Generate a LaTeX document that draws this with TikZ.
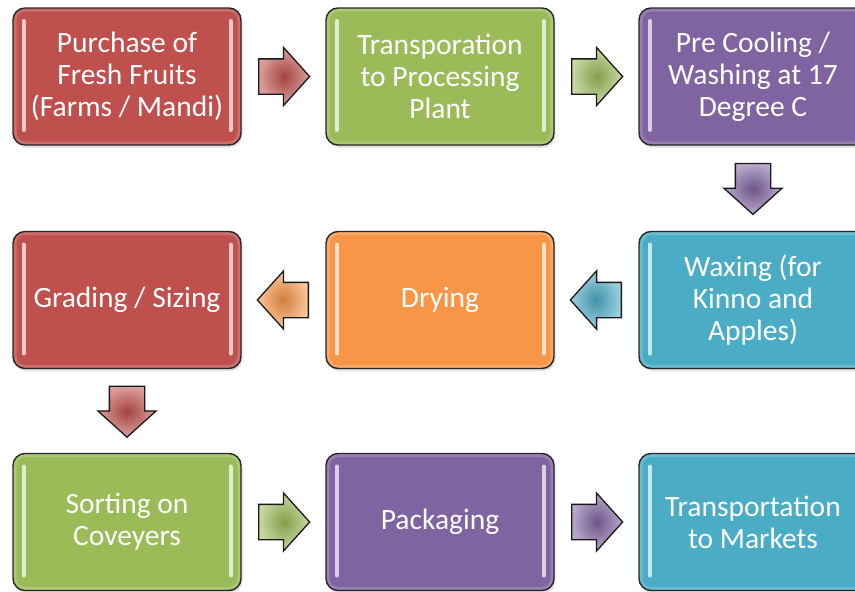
\documentclass[tikz,border=0pt]{standalone}
\usepackage{fontspec}
\setmainfont{Carlito}
\usetikzlibrary{shapes.arrows,shadows,calc}
\definecolor{rouge}{HTML}{C0504D}
\definecolor{vert}{HTML}{9BBB59}
\definecolor{mauve}{HTML}{8064A2}
\definecolor{turquoise}{HTML}{4BACC6}
\definecolor{orangeclair}{HTML}{F79646}

\tikzset{
  etape/.style={rectangle,rounded corners=12pt,draw=black!85,line width=1.4pt,
    fill=#1,text=white,minimum width=228pt,minimum height=137pt,inner sep=2pt,
    align=center,font=\fontsize{29.5}{32}\selectfont,
    drop shadow={opacity=0.25,shadow xshift=1.5pt,shadow yshift=-2.5pt},
    path picture={
      \draw[#1!70!white,line width=7pt,rounded corners=12pt,opacity=0.6]
        (path picture bounding box.north west) rectangle (path picture bounding box.south east);
      \draw[#1!30!white,line width=4pt,line cap=round]
        ([xshift=10.5pt,yshift=-13pt]path picture bounding box.north west) --
        ([xshift=10.5pt,yshift=15pt]path picture bounding box.south west);
      \draw[#1!30!white,line width=4pt,line cap=round]
        ([xshift=-10.5pt,yshift=-13pt]path picture bounding box.north east) --
        ([xshift=-10.5pt,yshift=15pt]path picture bounding box.south east);
    }},
  fleche/.style={single arrow,draw=black!90,line width=1.3pt,anchor=tail,
    minimum height=51pt,single arrow head extend=11.5pt,
    single arrow tip angle=96,inner color=#1!85!black,outer color=#1!55!white},
  droite/.style={fleche=#1,inner xsep=0pt,inner ysep=17pt,xshift=-25.5pt},
  gauche/.style={fleche=#1,inner xsep=0pt,inner ysep=17pt,xshift=25.5pt,shape border rotate=180},
  bas/.style={fleche=#1,inner xsep=17pt,inner ysep=0pt,yshift=25.5pt,shape border rotate=270}
}

\begin{document}
\begin{tikzpicture}[x=1pt,y=-1pt]
\clip (0,0) rectangle (855,592);
% les etapes
\node (PUR) at (127,76.5) [etape=rouge] {Purchase of\\Fresh Fruits\\(Farms / Mandi)};
\node (TRA) at (440,76.5) [etape=vert] {Transporation\\to Processing\\Plant};
\node (PRE) at (753,76.5) [etape=mauve] {Pre Cooling /\\Washing at 17\\Degree C};
\node (WAX) at (753,300) [etape=turquoise] {Waxing (for\\Kinno and\\Apples)};
\node (DRY) at (440,300) [etape=orangeclair] {Drying};
\node (GRA) at (127,300) [etape=rouge] {Grading / Sizing};
\node (SOR) at (127,522) [etape=vert] {Sorting on\\Coveyers};
\node (PAC) at (440,522) [etape=mauve] {Packaging};
\node (MAR) at (753,522) [etape=turquoise] {Transportation\\to Markets};

% les fleches entre les etapes
\node (F1) at ($(PUR.east)!0.5!(TRA.west)$) [droite=rouge] {};
\node (F2) at ($(TRA.east)!0.5!(PRE.west)$) [droite=vert] {};
\node (F3) at ($(PRE.south)!0.5!(WAX.north)$) [bas=mauve] {};
\node (F4) at ($(WAX.west)!0.5!(DRY.east)$) [gauche=turquoise] {};
\node (F5) at ($(DRY.west)!0.5!(GRA.east)$) [gauche=orangeclair] {};
\node (F6) at ($(GRA.south)!0.5!(SOR.north)$) [bas=rouge] {};
\node (F7) at ($(SOR.east)!0.5!(PAC.west)$) [droite=vert] {};
\node (F8) at ($(PAC.east)!0.5!(MAR.west)$) [droite=mauve] {};
\end{tikzpicture}
\end{document}
